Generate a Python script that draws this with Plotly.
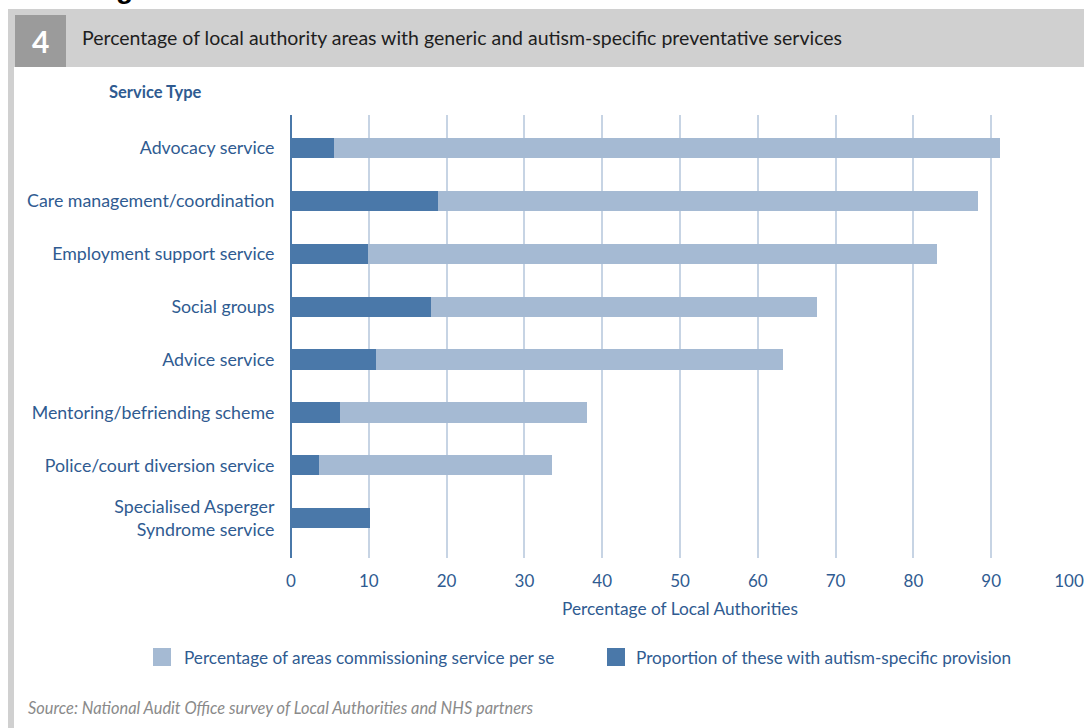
import plotly.graph_objects as go

# Service types, top to bottom
services = [
    "Advocacy service",
    "Care management/coordination",
    "Employment support service",
    "Social groups",
    "Advice service",
    "Mentoring/befriending scheme",
    "Police/court diversion service",
    "Specialised Asperger<br>Syndrome service",
]
# Percentage of areas commissioning the service at all
commissioning_pct = [91.1, 88.3, 83.0, 67.6, 63.2, 38.0, 33.5, None]
# Proportion of these with autism-specific provision
autism_specific_pct = [5.5, 18.9, 9.9, 18.0, 10.9, 6.3, 3.6, 10.2]

x_ticks = [0, 10, 20, 30, 40, 50, 60, 70, 80, 90, 100]

LIGHT = "#a5bad3"
DARK = "#4a78a9"
TEXT_BLUE = "#2f5b91"
GRID = "#c7d4e4"
BAND = "#d0d0d0"
FONT = "Lato"

W, H = 1084, 728
L, R, T, B = 291, 15, 115, 170
PW, PH = W - L - R, H - T - B


def px(xp):
    return (xp - L) / PW


def py(yp):
    return (H - B - yp) / PH


fig = go.Figure()
fig.add_trace(go.Bar(
    y=services, x=commissioning_pct, orientation="h",
    name="Percentage of areas commissioning service per se",
    marker=dict(color=LIGHT, line=dict(width=0)), width=0.38,
))
fig.add_trace(go.Bar(
    y=services, x=autism_specific_pct, orientation="h",
    name="Proportion of these with autism-specific provision",
    marker=dict(color=DARK, line=dict(width=0)), width=0.38,
))

shapes = [
    # header band, left frame stripe and figure number box
    dict(type="rect", xref="paper", yref="paper", x0=px(8), x1=px(W), y0=py(67), y1=py(9),
         fillcolor=BAND, line=dict(width=0), layer="below"),
    dict(type="rect", xref="paper", yref="paper", x0=px(8), x1=px(14), y0=py(H), y1=py(9),
         fillcolor=BAND, line=dict(width=0), layer="below"),
    dict(type="rect", xref="paper", yref="paper", x0=px(15), x1=px(66), y0=py(67), y1=py(15),
         fillcolor="#9b9b9b", line=dict(width=0), layer="below"),
]

annotations = [
    dict(text="<b>Figure 4</b>", xref="paper", yref="paper", x=px(89), y=py(6),
         xanchor="left", yanchor="bottom", showarrow=False,
         font=dict(family="Liberation Sans", size=28, color="#000000")),
    dict(text="<b>4</b>", xref="paper", yref="paper", x=px(40.5), y=py(41),
         xanchor="center", yanchor="middle", showarrow=False,
         font=dict(family=FONT, size=30, color="#ffffff")),
    dict(text="Percentage of local authority areas with generic and autism-specific preventative services",
         xref="paper", yref="paper", x=px(80), y=py(38), xanchor="left", yanchor="middle",
         showarrow=False, font=dict(family=FONT, size=19.5, color="#1e1e1e")),
    dict(text="<b>Service Type</b>", xref="paper", yref="paper", x=px(107), y=py(92),
         xanchor="left", yanchor="middle", showarrow=False,
         font=dict(family=FONT, size=16.5, color=TEXT_BLUE)),
    dict(text="<i>Source: National Audit Office survey of Local Authorities and NHS partners</i>",
         xref="paper", yref="paper", x=px(26), y=py(707), xanchor="left", yanchor="middle",
         showarrow=False, font=dict(family=FONT, size=16.4, color="#8a8a8a")),
]

# legend: swatch plus label for each series
legend_pos = [(153, 182), (607, 634)]
for tr, (sx, tx) in zip(fig.data, legend_pos):
    shapes.append(dict(type="rect", xref="paper", yref="paper", x0=px(sx), x1=px(sx + 18),
                       y0=py(666), y1=py(648), fillcolor=tr.marker.color, line=dict(width=0)))
    annotations.append(dict(text=tr.name, xref="paper", yref="paper", x=px(tx), y=py(657),
                            xanchor="left", yanchor="middle", showarrow=False,
                            font=dict(family=FONT, size=17.2, color=TEXT_BLUE)))

fig.update_layout(
    width=W, height=H, margin=dict(l=L, r=R, t=T, b=B, autoexpand=False),
    paper_bgcolor="white", plot_bgcolor="white",
    barmode="overlay", showlegend=False, bargap=0,
    font=dict(family=FONT, size=17, color=TEXT_BLUE),
    shapes=shapes, annotations=annotations,
    xaxis=dict(range=[0, 100], tickvals=x_ticks, showgrid=True, gridcolor=GRID, gridwidth=2,
               zeroline=True, zerolinecolor=DARK, zerolinewidth=2, showline=False,
               ticks="outside", ticklen=8, tickcolor="rgba(0,0,0,0)",
               automargin=False, tickfont=dict(size=17, color=TEXT_BLUE),
               title=dict(text="Percentage of Local Authorities", standoff=12,
                          font=dict(size=17.3, color=TEXT_BLUE))),
    yaxis=dict(range=[7.75, -0.62], showgrid=False, zeroline=False, showline=False,
               ticks="outside", ticklen=12, tickcolor="rgba(0,0,0,0)", automargin=False,
               tickfont=dict(size=17.8, color=TEXT_BLUE)),
)

fig.write_html("out.html")
